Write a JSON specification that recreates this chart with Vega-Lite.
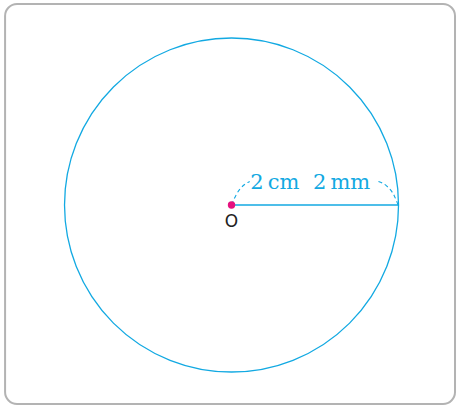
{
  "$schema": "https://vega.github.io/schema/vega-lite/v6.json",
  "width": 457,
  "height": 406,
  "autosize": {"type": "fit", "contains": "padding"},
  "padding": 0,
  "background": "white",
  "config": {"view": {"stroke": null}},
  "datasets": {
    "frame": [{"x1": -2.99, "x2": 2.951, "y1": -2.622, "y2": 2.648}],
    "circle": [{"x": 0, "y": 0, "r": 2.2}],
    "radius": [{"x": 0, "y": 0}, {"x": 2.2, "y": 0}],
    "arcL": [{"x": 0.0, "y": 0.0}, {"x": 0.07, "y": 0.15}, {"x": 0.16, "y": 0.26}, {"x": 0.24, "y": 0.31}],
    "arcR": [{"x": 1.94, "y": 0.31}, {"x": 2.05, "y": 0.25}, {"x": 2.15, "y": 0.12}, {"x": 2.2, "y": 0.0}],
    "labels": [
      {"x": 1.04, "y": 0.21, "t": "2\u2009cm\u00a0\u00a02\u2009mm", "kind": "len"},
      {"x": 0.0, "y": -0.224, "t": "O", "kind": "pt"}
    ]
  },
  "layer": [
    {
      "data": {"name": "frame"},
      "mark": {"type": "rect", "fill": null, "stroke": "#b3b3b3", "strokeWidth": 2, "cornerRadius": 12},
      "encoding": {
        "x": {"field": "x1", "type": "quantitative", "scale": {"domain": [-3.057, 2.964], "nice": false, "zero": false}, "axis": null},
        "x2": {"field": "x2"},
        "y": {"field": "y1", "type": "quantitative", "scale": {"domain": [-2.648, 2.701], "nice": false, "zero": false}, "axis": null},
        "y2": {"field": "y2"}
      }
    },
    {
      "data": {"name": "circle"},
      "mark": {"type": "point", "shape": "circle", "size": 111556, "filled": false, "stroke": "#12a9e2", "strokeWidth": 1.3, "opacity": 1},
      "encoding": {
        "x": {"field": "x", "type": "quantitative"},
        "y": {"field": "y", "type": "quantitative"}
      }
    },
    {
      "data": {"name": "radius"},
      "mark": {"type": "line", "color": "#12a9e2", "strokeWidth": 1.5},
      "encoding": {
        "x": {"field": "x", "type": "quantitative"},
        "y": {"field": "y", "type": "quantitative"}
      }
    },
    {
      "data": {"name": "arcL"},
      "mark": {"type": "line", "color": "#12a9e2", "strokeWidth": 1.1, "strokeDash": [4, 3], "interpolate": "monotone"},
      "encoding": {
        "x": {"field": "x", "type": "quantitative"},
        "y": {"field": "y", "type": "quantitative"}
      }
    },
    {
      "data": {"name": "arcR"},
      "mark": {"type": "line", "color": "#12a9e2", "strokeWidth": 1.1, "strokeDash": [4, 3], "interpolate": "monotone"},
      "encoding": {
        "x": {"field": "x", "type": "quantitative"},
        "y": {"field": "y", "type": "quantitative"}
      }
    },
    {
      "data": {"name": "radius"},
      "transform": [{"filter": "datum.x == 0"}],
      "mark": {"type": "point", "shape": "circle", "size": 55, "filled": true, "color": "#e5127f", "opacity": 1},
      "encoding": {
        "x": {"field": "x", "type": "quantitative"},
        "y": {"field": "y", "type": "quantitative"}
      }
    },
    {
      "data": {"name": "labels"},
      "transform": [{"filter": "datum.kind == 'len'"}],
      "mark": {"type": "text", "font": "DejaVu Serif", "fontSize": 21, "color": "#12a9e2", "align": "center", "baseline": "alphabetic"},
      "encoding": {
        "x": {"field": "x", "type": "quantitative"},
        "y": {"field": "y", "type": "quantitative"},
        "text": {"field": "t"}
      }
    },
    {
      "data": {"name": "labels"},
      "transform": [{"filter": "datum.kind == 'pt'"}],
      "mark": {"type": "text", "font": "DejaVu Sans", "fontSize": 17, "color": "#222222", "align": "center", "baseline": "middle"},
      "encoding": {
        "x": {"field": "x", "type": "quantitative"},
        "y": {"field": "y", "type": "quantitative"},
        "text": {"field": "t"}
      }
    }
  ]
}
